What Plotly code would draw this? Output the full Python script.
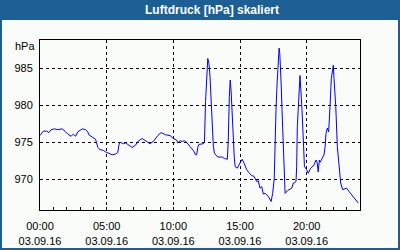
import plotly.graph_objects as go

# ---- data ----
times = [
    "00:00", "00:15", "00:30", "00:40", "00:50", "01:05", "01:20", "01:40", "01:55", "02:05",
    "02:20", "02:30", "02:40", "02:50", "03:10", "03:25", "03:35", "03:40", "03:55", "04:10",
    "04:15", "04:20", "04:30", "04:45", "04:55", "05:05", "05:15", "05:25", "05:40", "05:50",
    "05:55", "06:00", "06:15", "06:25", "06:35", "06:55", "07:10", "07:20", "07:40", "07:55",
    "08:05", "08:15", "08:30", "08:40", "08:50", "09:05", "09:15", "09:25", "09:45", "10:00",
    "10:15", "10:20", "10:30", "10:40", "10:50", "11:00", "11:15", "11:30", "11:40", "11:45",
    "11:50", "11:55", "12:15", "12:20", "12:25", "12:30", "12:35", "12:40", "12:45", "12:50",
    "12:55", "13:00", "13:05", "13:15", "13:20", "13:40", "13:50", "14:03", "14:07", "14:12",
    "14:16", "14:20", "14:23", "14:30", "14:34", "14:38", "14:48", "15:00", "15:10", "15:18",
    "15:30", "15:40", "15:52", "16:03", "16:15", "16:22", "16:30", "16:38", "16:45", "16:53",
    "17:03", "17:07", "17:20", "17:27", "17:34", "17:37", "17:42", "17:47", "17:52", "17:56",
    "17:59", "18:01", "18:05", "18:09", "18:15", "18:19", "18:23", "18:35", "18:53", "19:00",
    "19:04", "19:12", "19:15", "19:18", "19:22", "19:27", "19:30", "19:35", "19:39", "19:45",
    "19:50", "20:00", "20:07", "20:18", "20:33", "20:42", "20:47", "20:52", "20:57", "21:01",
    "21:08", "21:18", "21:23", "21:27", "21:33", "21:39", "21:45", "21:51", "21:58", "22:00",
    "22:03", "22:11", "22:18", "22:26", "22:33", "22:42", "23:00", "23:12", "23:30", "23:45",
    "23:52",
]
pressure = [
    975.9, 976.5, 976.5, 976.3, 976.7, 976.8, 976.7, 976.8, 976.4, 976.1,
    975.8, 976.1, 975.8, 976.4, 976.8, 976.7, 976.4, 976.0, 975.7, 975.4,
    974.9, 974.3, 974.0, 973.9, 973.7, 973.6, 973.4, 973.3, 973.4, 973.6,
    974.6, 975.0, 974.8, 974.9, 974.7, 974.3, 974.6, 975.1, 975.5, 975.2,
    974.9, 974.8, 975.1, 975.5, 975.9, 976.3, 976.1, 976.0, 975.9, 975.5,
    975.3, 974.9, 975.2, 975.1, 975.2, 975.0, 974.4, 973.9, 973.3, 973.3,
    974.3, 974.7, 974.8, 975.0, 980.5, 984.8, 986.3, 985.7, 983.9, 980.7,
    977.5, 974.5, 973.5, 973.1, 973.0, 973.0, 972.8, 972.7, 975.1, 981.2,
    983.4, 981.9, 979.6, 975.1, 973.1, 971.7, 971.5, 972.2, 972.7, 972.2,
    971.3, 970.9, 970.5, 970.4, 969.7, 969.8, 968.8, 969.0, 968.0, 968.1,
    967.7, 967.7, 967.0, 968.1, 970.1, 974.9, 979.4, 983.0, 986.1, 987.7,
    987.0, 986.0, 983.0, 979.4, 973.5, 969.9, 968.1, 968.5, 968.8, 969.5,
    969.5, 969.7, 971.7, 977.1, 980.7, 982.3, 984.0, 982.1, 979.4, 975.3,
    971.7, 971.3, 970.8, 971.5, 971.9, 972.6, 972.3, 971.0, 972.6, 972.3,
    972.8, 973.3, 974.4, 976.2, 976.9, 976.4, 979.8, 983.6, 985.0, 985.4,
    983.6, 979.8, 974.4, 971.3, 969.5, 968.6, 968.8, 968.3, 967.6, 967.0,
    966.8,
]
date = "2016-09-03"
x_range = ["2016-09-03 00:00", "2016-09-04 00:00"]
y_range = [965.85, 988.8]
y_ticks = [970, 975, 980, 985]
title_text = "Luftdruck [hPa] skaliert"
unit_text = "hPa"

x_vals = [f"{date} {t}" for t in times]

BLUE = "#1c5f94"
BG = "#fafcfa"
FONT = "Liberation Sans"

fig = go.Figure()
fig.add_trace(go.Scatter(x=x_vals, y=pressure, mode="lines",
                         line=dict(color="#0000ff", width=1), hoverinfo="skip"))

fig.update_layout(
    width=400, height=250,
    margin=dict(l=40, r=40, t=40, b=40, autoexpand=False),
    paper_bgcolor=BG, plot_bgcolor=BG,
    showlegend=False,
    font=dict(family=FONT, size=11, color="black"),
    xaxis=dict(
        range=x_range, type="date",
        tick0="2016-09-03 00:00", dtick=5 * 3600000,
        tickformat="%H:%M<br>%d.%m.%y",
        ticks="inside", ticklen=3, tickcolor="black",
        ticklabelstandoff=6, automargin=False,
        showline=True, mirror=True, linecolor="black", linewidth=1,
        showgrid=True, gridcolor="black", gridwidth=1, griddash="3px,3px",
        minor=dict(dtick=3600000, ticks="inside", ticklen=3, tickcolor="black", showgrid=False),
        zeroline=False, fixedrange=True,
    ),
    yaxis=dict(
        range=y_range, tickvals=y_ticks,
        ticks="", ticklabelstandoff=4, automargin=False,
        showline=True, mirror=True, linecolor="black", linewidth=1,
        showgrid=True, gridcolor="black", gridwidth=1, griddash="3px,3px",
        zeroline=False, fixedrange=True,
    ),
    shapes=[
        dict(type="rect", xref="paper", yref="paper",
             x0=-40 / 320, x1=360 / 320, y0=190 / 170, y1=210 / 170,
             fillcolor=BLUE, line=dict(width=0), layer="above"),
        dict(type="rect", xref="paper", yref="paper",
             x0=-39 / 320, x1=359 / 320, y0=-39 / 170, y1=209 / 170,
             fillcolor="rgba(0,0,0,0)", line=dict(color=BLUE, width=2), layer="above"),
    ],
    annotations=[
        dict(text=f"<b>{title_text}</b>", xref="paper", yref="paper",
             x=172 / 320, y=200 / 170, xanchor="center", yanchor="middle",
             showarrow=False, font=dict(family=FONT, size=12, color="white")),
        dict(text=unit_text, xref="paper", yref="paper",
             x=0, y=1, xanchor="right", yanchor="middle", xshift=-3, yshift=-6,
             showarrow=False, font=dict(family=FONT, size=11, color="black")),
    ],
)

fig.write_html("out.html")
